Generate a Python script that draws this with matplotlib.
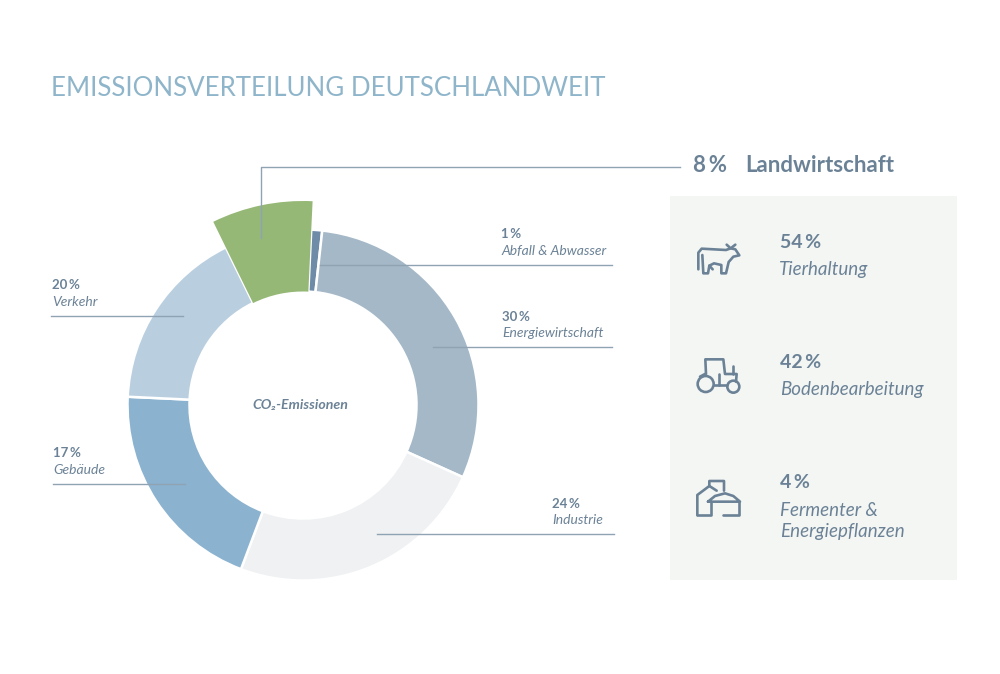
import matplotlib.pyplot as plt
import sys

sectors = ['Abfall & Abwasser', 'Energiewirtschaft', 'Industrie', 'Gebäude', 'Verkehr', 'Landwirtschaft']
shares = [1, 30, 24, 20, 17, 8]  # the slice widths, in the picture gebäude is the 20 one
share_labels = ['1\u2009%', '30\u2009%', '24\u2009%', '17\u2009%', '20\u2009%', '8\u2009%']
colors = ['#6E8CA8', '#A5B8C8', '#EFF1F2', '#8BB3D0', '#B9CFE0', '#96B877']
farm_labels = ['54\u2009%', '42\u2009%', '4\u2009%']
farm_names = ['Tierhaltung', 'Bodenbearbeitung', 'Fermenter &\nEnergiepflanzen']

dark = '#6B8296'
line = '#8FA3B3'

def px(x, y):
    return x, 674 - y

def leader(points, color=line):
    plt.plot([p[0] for p in points], [674 - p[1] for p in points], color=color, lw=1, zorder=4)

def icon(points):
    # coordinates of the little icons, in pixels of the crop
    plt.plot([670 + p[0] / 3 for p in points], [674 - (200 + p[1] / 3) for p in points],
             color=dark, lw=1.9, zorder=5, solid_joinstyle='round', solid_capstyle='round')

def ring(cx, cy, r):
    c = plt.Circle((670 + cx / 3, 674 - (200 + cy / 3)), r / 3, fill=False, color=dark, lw=1.9, zorder=5)
    plt.gca().add_patch(c)

def main():
    plt.figure(figsize=(10, 6.74), dpi=100)
    plt.axes([0, 0, 1, 1])
    plt.rcParams['font.family'] = ['Lato', 'DejaVu Sans']

    wedges, _ = plt.pie(shares, colors=colors, startangle=87.3, counterclock=False,
                        center=(303, 269), radius=175.5,
                        wedgeprops=dict(width=62, edgecolor='white', linewidth=1.8))
    # the green one sticks out of the ring
    wedges[5].set_radius(204)
    wedges[5].set_width(90.5)
    wedges[5].set_edgecolor('none')
    plt.xlim(0, 1000)
    plt.ylim(0, 674)
    plt.axis('off')

    plt.gca().add_patch(plt.Rectangle(px(670, 580), 287, 384, color='#F4F6F4', lw=0))

    plt.text(51, 674 - 88, 'EMISSIONSVERTEILUNG DEUTSCHLANDWEIT', color='#8FB5CA', size=18.6,
             va='center')
    plt.text(300, 674 - 405, 'CO₂-Emissionen', color=dark, size=10.2, weight='bold', style='italic',
             ha='center', va='center')

    leader([(261, 238), (261, 167), (680, 167)])
    leader([(320, 265), (612, 265)])
    leader([(433, 347), (612, 347)])
    leader([(377, 534), (614, 534)])
    leader([(51, 316), (183, 316)])
    leader([(53, 484), (185, 484)])

    # label position for the ring sectors
    spots = [(501, 234, 251), (502, 317, 333), (552, 504, 520), (53, 453, 470), (52, 285, 302)]
    for i in range(5):
        x, y1, y2 = spots[i]
        plt.text(x, 674 - y1, share_labels[i], color=dark, size=9.5, weight='bold', va='center')
        plt.text(x, 674 - y2, sectors[i], color=dark, size=10, style='italic', va='center')

    plt.text(693, 674 - 165, share_labels[5], color=dark, size=16, weight='bold', va='center')
    plt.text(745, 674 - 165, sectors[5], color=dark, size=16, weight='bold', va='center')

    heads = [242, 363, 482]
    for i in range(3):
        plt.text(780, 674 - heads[i], farm_labels[i], color=dark, size=14, weight='bold', va='center')
    plt.text(779, 674 - 270, farm_names[0], color=dark, size=13.5, style='italic', va='center')
    plt.text(780, 674 - 389, farm_names[1], color=dark, size=13.5, style='italic', va='center')
    plt.text(780, 674 - 502, farm_names[2], color=dark, size=13.5, style='italic', va='top', linespacing=1.3)

    # cow
    icon([(85, 208), (85, 158), (95, 146), (168, 150), (182, 145), (196, 148), (208, 166), (190, 170),
          (176, 186), (168, 220), (154, 220), (154, 195), (132, 190), (118, 197), (114, 220), (100, 220),
          (97, 165)])
    icon([(170, 134), (182, 145), (196, 134)])
    icon([(118, 197), (128, 208)])
    # tractor
    ring(107, 552, 24)
    ring(190, 560, 18)
    icon([(108, 522), (106, 478), (160, 478), (165, 522), (200, 522), (198, 545)])
    icon([(90, 530), (105, 522)])
    icon([(131, 556), (172, 556)])
    icon([(146, 556), (146, 522)])
    icon([(190, 522), (190, 498)])
    # fermenter
    icon([(82, 945), (82, 885), (118, 858), (118, 843), (162, 843), (162, 872)])
    icon([(82, 945), (122, 945), (122, 906)])
    icon([(114, 905), (135, 888), (165, 880), (190, 888), (210, 905), (114, 905)])
    icon([(208, 905), (208, 945), (160, 945)])
    icon([(118, 858), (140, 872)])

    plt.savefig('out.png', dpi=100)
    return 0

if __name__ == "__main__":
    sys.exit(main())
